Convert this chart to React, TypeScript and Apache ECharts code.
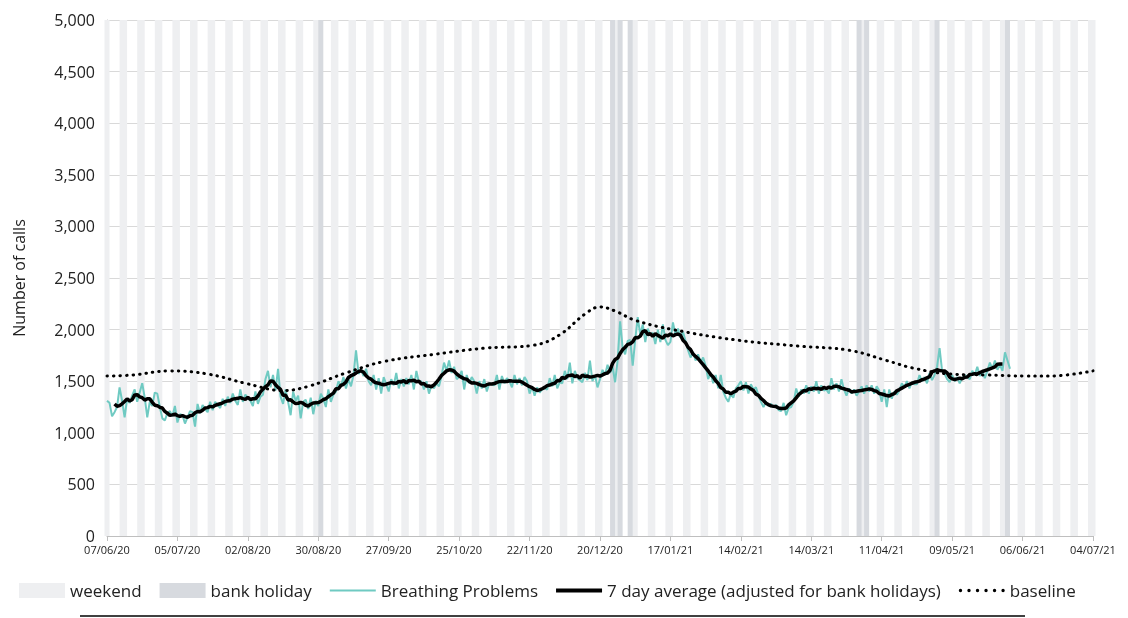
import React, { useEffect, useRef } from 'react'
import * as echarts from 'echarts'

// daily calls from 07/06/20, one row per week (Sun..Sat)
const dailyCalls = [
  1310, 1290, 1160, 1200, 1250, 1440, 1310,
  1150, 1330, 1290, 1360, 1420, 1300, 1390,
  1480, 1340, 1150, 1300, 1260, 1390, 1380,
  1250, 1140, 1120, 1190, 1210, 1160, 1260,
  1100, 1180, 1170, 1090, 1150, 1210, 1200,
  1060, 1280, 1190, 1270, 1230, 1200, 1300,
  1220, 1300, 1270, 1240, 1330, 1260, 1350,
  1290, 1380, 1310, 1270, 1420, 1300, 1370,
  1340, 1310, 1260, 1400, 1280, 1350, 1370,
  1520, 1600, 1440, 1560, 1410, 1620, 1350,
  1280, 1420, 1300, 1170, 1400, 1310, 1360,
  1140, 1300, 1320, 1230, 1340, 1180, 1310,
  1260, 1380, 1330, 1250, 1420, 1300, 1370,
  1400, 1500, 1450, 1540, 1430, 1520, 1450,
  1560, 1800, 1570, 1610, 1550, 1620, 1500,
  1460, 1560, 1420, 1530, 1380, 1540, 1470,
  1400, 1520, 1460, 1580, 1430, 1520, 1450,
  1530, 1470, 1560, 1420, 1600, 1490, 1500,
  1420, 1500, 1380, 1460, 1430, 1480, 1450,
  1550, 1680, 1600, 1700, 1580, 1640, 1520,
  1540, 1600, 1420, 1560, 1480, 1540, 1500,
  1380, 1500, 1430, 1520, 1400, 1480, 1470,
  1460, 1560, 1420, 1550, 1480, 1530, 1500,
  1440, 1560, 1470, 1530, 1460, 1540, 1500,
  1380, 1450, 1360, 1440, 1390, 1420, 1430,
  1420, 1530, 1450, 1560, 1430, 1490, 1480,
  1600, 1520, 1680, 1480, 1600, 1530, 1510,
  1490, 1580, 1510, 1700, 1500, 1560, 1440,
  1520, 1610, 1560, 1660, 1580, 1640, 1490,
  1700, 2080, 1820, 1760, 1890, 1900, 1650,
  1900, 2120, 1950, 2050, 1880, 2010, 1950,
  1970, 1860, 2000, 1880, 2050, 1900, 1850,
  1880, 2070, 1950, 2010, 1920, 1980, 1890,
  1800, 1730, 1780, 1700, 1760, 1680, 1730,
  1650, 1520, 1580, 1480, 1560, 1430, 1560,
  1400, 1340, 1300, 1380, 1340, 1430, 1460,
  1500, 1410, 1490, 1380, 1470, 1420, 1440,
  1360, 1300, 1250, 1300, 1260, 1280, 1250,
  1270, 1220, 1210, 1290, 1170, 1240, 1250,
  1300, 1430, 1350, 1420, 1380, 1460, 1380,
  1450, 1400, 1500, 1380, 1460, 1410, 1420,
  1380, 1530, 1420, 1480, 1400, 1520, 1420,
  1360, 1430, 1380, 1420, 1360, 1400, 1450,
  1380, 1460, 1400, 1460, 1380, 1450, 1410,
  1300, 1420, 1250, 1420, 1330, 1400, 1370,
  1410, 1480, 1440, 1500, 1430, 1490, 1470,
  1470, 1560, 1500, 1540, 1480, 1580, 1510,
  1560, 1640, 1820, 1600, 1570, 1520, 1490,
  1560, 1500, 1540, 1480, 1530, 1560, 1540,
  1520, 1600, 1560, 1640, 1550, 1600, 1530,
  1600, 1680, 1620, 1700, 1610, 1660, 1600,
  1780, 1700, 1620,
]

// baseline read at selected days (day index from 07/06/20)
const baselineDays = [0, 10, 25, 40, 55, 70, 80, 95, 110, 130, 150, 170, 180, 190, 196, 202, 210, 225, 250, 275, 295, 310, 320, 335, 350, 365, 375, 392]
const baselineValues = [1550, 1560, 1600, 1570, 1480, 1410, 1450, 1580, 1690, 1760, 1820, 1850, 1950, 2150, 2220, 2180, 2090, 2000, 1900, 1840, 1800, 1700, 1630, 1570, 1560, 1550, 1550, 1600]

const bankHolidays = [85, 201, 204, 208, 299, 302, 330, 358]

const totalDays = 393
const yTicks = { min: 0, max: 5000, interval: 500 }

const dotsIcon = 'path://M0,1a1,1 0 1,0 2,0a1,1 0 1,0 -2,0M5,1a1,1 0 1,0 2,0a1,1 0 1,0 -2,0M10,1a1,1 0 1,0 2,0a1,1 0 1,0 -2,0M15,1a1,1 0 1,0 2,0a1,1 0 1,0 -2,0M20,1a1,1 0 1,0 2,0a1,1 0 1,0 -2,0M25,1a1,1 0 1,0 2,0a1,1 0 1,0 -2,0'

export default function App() {
  const ref = useRef<HTMLDivElement>(null)

  useEffect(() => {
    const chart = echarts.init(ref.current as HTMLDivElement, undefined, { renderer: 'svg' })
    const start = new Date(2020, 5, 7)
    const categories: string[] = []
    const weekend: (number | null)[] = []
    const bank: (number | null)[] = []
    for (let i = 0; i < totalDays; i++) {
      const d = new Date(start.getFullYear(), start.getMonth(), start.getDate() + i)
      const dd = String(d.getDate()).padStart(2, '0')
      const mm = String(d.getMonth() + 1).padStart(2, '0')
      categories.push(`${dd}/${mm}/${String(d.getFullYear()).slice(2)}`)
      const wd = d.getDay()
      weekend.push(wd === 0 || wd === 6 ? yTicks.max : null)
      bank.push(bankHolidays.includes(i) ? yTicks.max : null)
    }
    const avg: (number | null)[] = dailyCalls.map((_, i) => {
      if (i < 3 || i > dailyCalls.length - 4) return null
      let s = 0
      for (let k = i - 3; k <= i + 3; k++) s += dailyCalls[k]
      return Math.round(s / 7)
    })
    const baseline: (number | null)[] = categories.map(() => null)
    baselineDays.forEach((d, k) => { baseline[d] = baselineValues[k] })

    chart.setOption({
      animation: false,
      textStyle: { fontFamily: 'Open Sans, sans-serif' },
      grid: { left: 107, right: 35, top: 20, bottom: 82 },
      legend: {
        bottom: 14,
        left: 14,
        itemGap: 18,
        itemWidth: 46,
        itemHeight: 15,
        textStyle: { fontSize: 17, color: '#222' },
        data: [
          { name: 'weekend', icon: 'rect' },
          { name: 'bank holiday', icon: 'rect' },
          { name: 'Breathing Problems', icon: 'path://M0,0H46V2H0Z', itemHeight: 2 },
          { name: '7 day average (adjusted for bank holidays)', icon: 'path://M0,0H46V4H0Z' },
          { name: 'baseline', icon: dotsIcon },
        ],
      },
      xAxis: {
        type: 'category',
        data: categories,
        boundaryGap: false,
        axisLine: { lineStyle: { color: '#bfbfbf' } },
        axisTick: { show: true, interval: 27, lineStyle: { color: '#bfbfbf' } },
        axisLabel: { interval: 27, fontSize: 11, color: '#222', showMaxLabel: true },
      },
      yAxis: {
        type: 'value',
        ...yTicks,
        name: 'Number of calls',
        nameLocation: 'middle',
        nameGap: 80,
        nameTextStyle: { fontSize: 16, color: '#222' },
        axisLine: { show: true, lineStyle: { color: '#bfbfbf' } },
        axisLabel: { fontSize: 16, color: '#222', margin: 12, formatter: (v: number) => v.toLocaleString('en-GB') },
        splitLine: { lineStyle: { color: '#d9d9d9' } },
      },
      graphic: [
        { type: 'line', shape: { x1: 80, y1: 616, x2: 1025, y2: 616 }, style: { stroke: '#000', lineWidth: 1.5 } },
      ],
      series: [
        { name: 'weekend', type: 'bar', data: weekend, barWidth: 5, itemStyle: { color: '#eeeff1' }, silent: true },
        { name: 'bank holiday', type: 'bar', data: bank, barWidth: 5, barGap: '-100%', itemStyle: { color: '#d7dadf' }, silent: true },
        { name: 'Breathing Problems', type: 'line', data: dailyCalls, symbol: 'none', lineStyle: { color: '#6fcac2', width: 2 }, itemStyle: { color: '#6fcac2' } },
        { name: '7 day average (adjusted for bank holidays)', type: 'line', data: avg, symbol: 'none', lineStyle: { color: '#000', width: 3.5 }, itemStyle: { color: '#000' } },
        { name: 'baseline', type: 'line', data: baseline, connectNulls: true, smooth: 0.4, symbol: 'none', lineStyle: { color: '#000', width: 3, type: [0.5, 6], cap: 'round' }, itemStyle: { color: '#000' } },
      ],
    })
    return () => chart.dispose()
  }, [])

  return <div ref={ref} style={{ position: 'fixed', left: 0, top: 0, width: 1128, height: 618 }} />
}
